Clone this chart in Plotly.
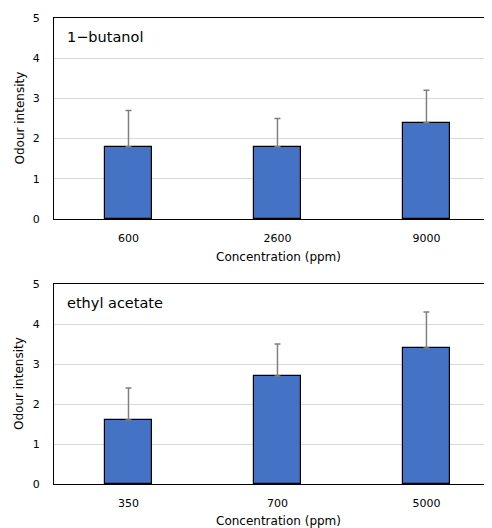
import plotly.graph_objects as go
from plotly.subplots import make_subplots

butanol_conc = ["600", "2600", "9000"]
butanol_vals = [1.8, 1.8, 2.4]
butanol_err = [0.9, 0.7, 0.8]

ethyl_conc = ["350", "700", "5000"]
ethyl_vals = [1.6, 2.7, 3.4]
ethyl_err = [0.8, 0.8, 0.9]

y_ticks = [0, 1, 2, 3, 4, 5]

FONT = "DejaVu Sans, Noto Sans CJK JP, sans-serif"
BAR = "#4472C4"
OFF = 8  # page body margin
W, H = 492 - OFF, 528 - OFF
L = 54 - OFF


def py(y):
    """screen y -> paper fraction"""
    return 1 - (y - OFF) / H


def px(x):
    """screen x -> paper fraction (plot area)"""
    return (x - OFF - L) / (W - L)


fig = make_subplots(rows=2, cols=1)

for row, cats, vals, err in [(1, butanol_conc, butanol_vals, butanol_err),
                             (2, ethyl_conc, ethyl_vals, ethyl_err)]:
    fig.add_trace(go.Bar(
        x=cats, y=vals, width=0.32,
        marker=dict(color=BAR, line=dict(color="#000000", width=1.2)),
        error_y=dict(type="data", array=err, symmetric=False, arrayminus=[0]*len(err),
                     color="#808080", thickness=1.5, width=3),
        showlegend=False,
    ), row=row, col=1)

top_dom = [py(219), py(18)]
bot_dom = [py(484), py(284)]

axis_common = dict(showline=True, linecolor="#000000", linewidth=1.2, automargin=False,
                   tickfont=dict(family=FONT, size=11, color="#000000"))
xcommon = dict(range=[-0.5, 2.44], mirror=True, ticks="", ticklabelstandoff=9, **axis_common)
ycommon = dict(range=[0, 5], tickvals=y_ticks, showgrid=True, gridcolor="#d9d9d9",
               gridwidth=1, zeroline=False, ticks="", ticklabelstandoff=11, **axis_common)

fig.update_layout(
    width=W, height=H,
    margin=dict(l=L, r=0, t=0, b=0, autoexpand=False),
    plot_bgcolor="white", paper_bgcolor="white",
    font=dict(family=FONT, color="#000000"),
    xaxis=dict(domain=[0, 1], anchor="y", **xcommon),
    yaxis=dict(domain=top_dom, anchor="x", **ycommon),
    xaxis2=dict(domain=[0, 1], anchor="y2", **xcommon),
    yaxis2=dict(domain=bot_dom, anchor="x2", **ycommon),
    bargap=0,
)

ann = []
for ytop, ybot, name in [(18, 219, "1\u2212butanol"), (284, 484, "ethyl acetate")]:
    ann.append(dict(text=name, xref="paper", yref="paper", x=px(65),
                    y=py(ytop + 19), xanchor="left", yanchor="middle",
                    showarrow=False, font=dict(family=FONT, size=14.5, color="#000000")))
    ann.append(dict(text="Concentration (ppm)", xref="paper", yref="paper", x=px(278),
                    y=py(min(ybot + 38, 521)), xanchor="center", yanchor="middle",
                    showarrow=False, font=dict(family=FONT, size=12, color="#000000")))
    ann.append(dict(text="Odour intensity", xref="paper", yref="paper",
                    x=px(19), y=py((ytop + ybot) / 2),
                    xanchor="center", yanchor="middle", textangle=-90,
                    showarrow=False, font=dict(family=FONT, size=12, color="#000000")))
fig.update_layout(annotations=ann)

fig.write_html("out.html")
